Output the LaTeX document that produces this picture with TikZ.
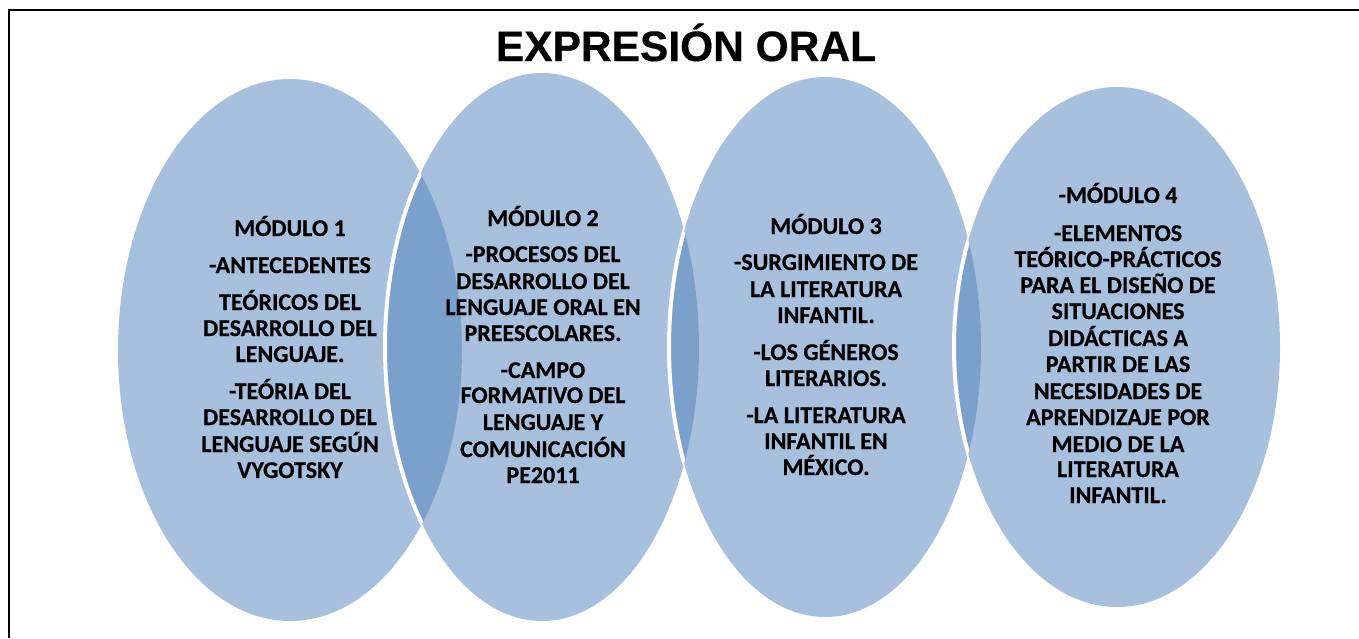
\documentclass[tikz,border=0pt]{standalone}
\usepackage{fontspec}
\setmainfont{Carlito}
\newfontfamily\bodyfont{Carlito}[UprightFont={* Bold},FakeBold=0.6]
\newfontfamily\titlefont{Liberation Sans}[UprightFont={* Bold},FakeBold=0.4]
\definecolor{lightblue}{RGB}{167,192,222}
\definecolor{darkblue}{RGB}{124,160,204}
\begin{document}
\begin{tikzpicture}[x=1pt,y=-1pt,
  txt/.style={anchor=base,inner sep=0pt,font=\bodyfont\fontsize{24}{26}\selectfont},
  ttl/.style={anchor=base,inner sep=0pt,font=\titlefont\fontsize{42.5}{46}\selectfont},
  gap/.style={draw=white,line width=4pt}]
\useasboundingbox (0,0) rectangle (1359,638);
% ellipse data
\def\Ea{(290,350) ellipse [x radius=172,y radius=271]}
\def\Eb{(542,347) ellipse [x radius=157,y radius=274]}
\def\Ec{(825,347) ellipse [x radius=156,y radius=270]}
\def\Ed{(1117,347) ellipse [x radius=163,y radius=260]}
% light fills
\fill[lightblue] \Ea;
\fill[lightblue] \Eb;
\fill[lightblue] \Ec;
\fill[lightblue] \Ed;
% overlaps
\begin{scope}
  \clip \Ea; \fill[darkblue] \Eb; \draw[gap] \Eb;
\end{scope}
\begin{scope}
  \clip \Eb; \fill[darkblue] \Ec; \draw[gap] \Ec;
\end{scope}
\begin{scope}
  \clip \Ec; \fill[darkblue] \Ed; \draw[gap] \Ed;
\end{scope}
% frame
\draw[line width=2pt] (9,638) -- (9,10) -- (1359,10);
% title
\node[ttl] (title) at (686,61) {EXPRESIÓN ORAL};
% module 1
\foreach \t/\y [count=\i] in {MÓDULO 1/236,-ANTECEDENTES/273,TEÓRICOS DEL/310,DESARROLLO DEL/336,LENGUAJE./362,-TEÓRIA DEL/399,DESARROLLO DEL/425,LENGUAJE SEGÚN/452,VYGOTSKY/478}
  \node[txt] (ma\i) at (290,\y) {\t};
% module 2
\foreach \t/\y [count=\i] in {MÓDULO 2/226,-PROCESOS DEL/262,DESARROLLO DEL/289,LENGUAJE ORAL EN/315,PREESCOLARES./341,-CAMPO/378,FORMATIVO DEL/403,LENGUAJE Y/430,COMUNICACIÓN/457,PE2011/483}
  \node[txt] (mb\i) at (543,\y) {\t};
% module 3
\foreach \t/\y [count=\i] in {MÓDULO 3/234,-SURGIMIENTO DE/270,LA LITERATURA/297,INFANTIL./323,-LOS GÉNEROS/360,LITERARIOS./386,-LA LITERATURA/423,INFANTIL EN/449,MÉXICO./475}
  \node[txt] (mc\i) at (826,\y) {\t};
% module 4
\foreach \t/\y [count=\i] in {-MÓDULO 4/203,-ELEMENTOS/241,TEÓRICO-PRÁCTICOS/267,PARA EL DISEÑO DE/293,SITUACIONES/319,DIDÁCTICAS A/346,PARTIR DE LAS/372,NECESIDADES DE/399,APRENDIZAJE POR/425,MEDIO DE LA/452,LITERATURA/477,INFANTIL./503}
  \node[txt] (md\i) at (1118,\y) {\t};
\end{tikzpicture}
\end{document}
